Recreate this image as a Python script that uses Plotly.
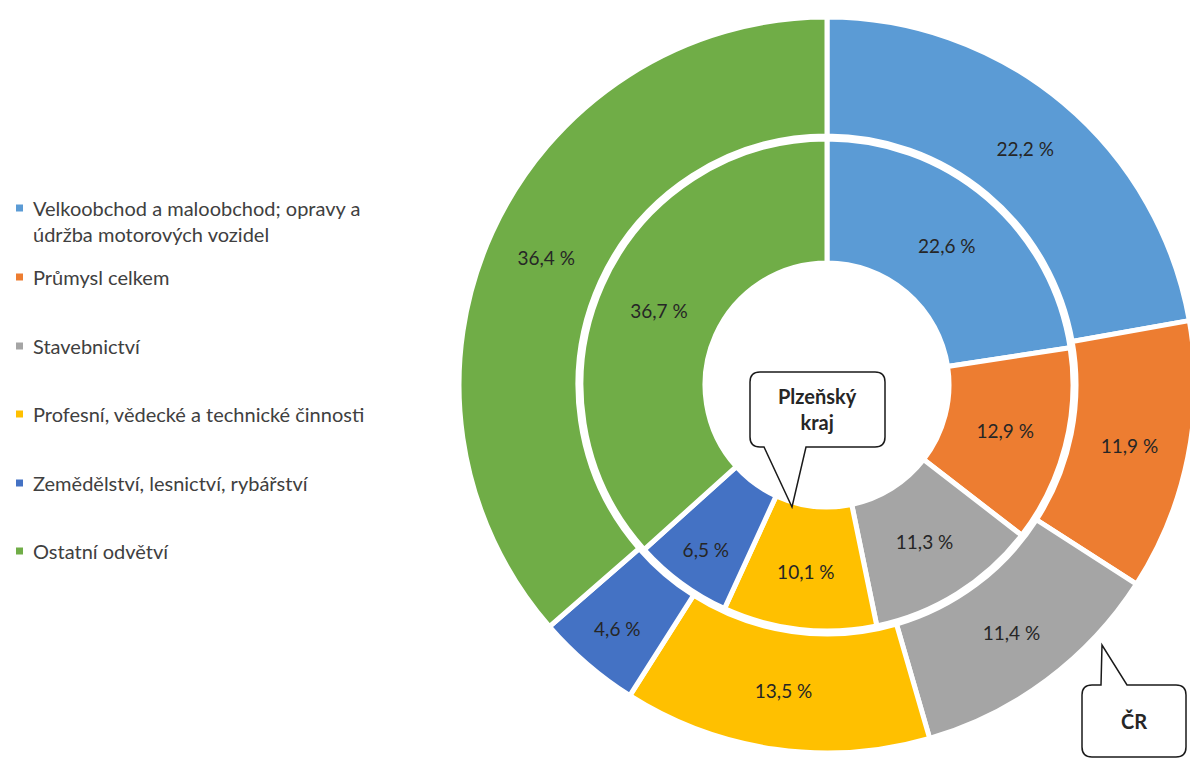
import plotly.graph_objects as go

# ---- data ----
categories = [
    "Velkoobchod a maloobchod; opravy a<br>údržba motorových vozidel",
    "Průmysl celkem",
    "Stavebnictví",
    "Profesní, vědecké a technické činnosti",
    "Zemědělství, lesnictví, rybářství",
    "Ostatní odvětví",
]
cr_values = [22.2, 11.9, 11.4, 13.5, 4.6, 36.4]        # outer ring: ČR
plzen_values = [22.6, 12.9, 11.3, 10.1, 6.5, 36.7]     # inner ring: Plzeňský kraj
colors = ["#5B9BD5", "#ED7D31", "#A5A5A5", "#FFC000", "#4472C4", "#70AD47"]

W, H = 1200, 762   # figure slightly wider than the 1190 view: outer ring is clipped at right
FONT = "Lato"
TXT = "#262626"

def fmt(v):
    return f"{v:.1f} %".replace(".", ",")

def px(x):
    return x / W

def py(y):
    return 1 - y / H

CX, CY = 827, 385
R_OUT, R_OUT_IN = 368, 249
R_IN, R_HOLE = 246, 122

def dom(r):
    return dict(x=[px(CX - r), min(1.0, px(CX + r))], y=[py(CY + r), py(CY - r)])

fig = go.Figure()
fig.add_trace(go.Pie(
    labels=categories, values=cr_values, text=[fmt(v) for v in cr_values],
    textinfo="text", sort=False, direction="clockwise", rotation=0,
    hole=R_OUT_IN / R_OUT, domain=dom(R_OUT),
    marker=dict(colors=colors, line=dict(color="white", width=5)),
    textposition="inside", insidetextorientation="horizontal",
    insidetextfont=dict(family=FONT, size=19, color=TXT),
    showlegend=False, name="ČR",
))
fig.add_trace(go.Pie(
    labels=categories, values=plzen_values, text=[fmt(v) for v in plzen_values],
    textinfo="text", sort=False, direction="clockwise", rotation=0,
    hole=R_HOLE / R_IN, domain=dom(R_IN),
    marker=dict(colors=colors, line=dict(color="white", width=5)),
    textposition="inside", insidetextorientation="horizontal",
    insidetextfont=dict(family=FONT, size=19, color=TXT),
    showlegend=False, name="Plzeňský kraj",
))

shapes = []
annotations = []

# ---- manual legend ----
legend_y = [208, 277, 346, 414, 483, 551]
for cat, col, y in zip(categories, colors, legend_y):
    shapes.append(dict(type="rect", xref="paper", yref="paper",
                       x0=px(16), x1=px(23), y0=py(y + 3.5), y1=py(y - 3.5),
                       fillcolor=col, line=dict(width=0)))
    annotations.append(dict(xref="paper", yref="paper", x=px(31), y=py(y - 14),
                            text=cat, showarrow=False, xanchor="left", yanchor="top",
                            align="left",
                            font=dict(family=FONT, size=20, color="#404040")))

# ---- callouts ----
def callout(x0, y0, x1, y1, r, base_a, base_b, tip, side):
    def P(x, y):
        return f"{px(x)},{py(y)}"
    if side == "bottom":
        path = (f"M {P(x0 + r, y0)} L {P(x1 - r, y0)} Q {P(x1, y0)} {P(x1, y0 + r)} "
                f"L {P(x1, y1 - r)} Q {P(x1, y1)} {P(x1 - r, y1)} "
                f"L {P(base_b, y1)} L {P(tip[0], tip[1])} L {P(base_a, y1)} "
                f"L {P(x0 + r, y1)} Q {P(x0, y1)} {P(x0, y1 - r)} "
                f"L {P(x0, y0 + r)} Q {P(x0, y0)} {P(x0 + r, y0)} Z")
    else:
        path = (f"M {P(x0 + r, y0)} L {P(base_a, y0)} L {P(tip[0], tip[1])} L {P(base_b, y0)} "
                f"L {P(x1 - r, y0)} Q {P(x1, y0)} {P(x1, y0 + r)} "
                f"L {P(x1, y1 - r)} Q {P(x1, y1)} {P(x1 - r, y1)} "
                f"L {P(x0 + r, y1)} Q {P(x0, y1)} {P(x0, y1 - r)} "
                f"L {P(x0, y0 + r)} Q {P(x0, y0)} {P(x0 + r, y0)} Z")
    return dict(type="path", xref="paper", yref="paper", path=path,
                fillcolor="white", line=dict(color="#1a1a1a", width=1.5), layer="above")

shapes.append(callout(750, 372, 885, 447, 10, 764, 806, (792, 507), "bottom"))
shapes.append(callout(1082, 685, 1186, 757, 10, 1101, 1127, (1102, 645), "top"))

annotations.append(dict(xref="paper", yref="paper", x=px(817), y=py(409),
                        xanchor="center", yanchor="middle",
                        text="<b>Plzeňský<br>kraj</b>", showarrow=False,
                        font=dict(family=FONT, size=20, color=TXT)))
annotations.append(dict(xref="paper", yref="paper", x=px(1134), y=py(721),
                        xanchor="center", yanchor="middle",
                        text="<b>ČR</b>", showarrow=False,
                        font=dict(family=FONT, size=20, color=TXT)))

fig.update_layout(
    width=W, height=H, margin=dict(l=0, r=0, t=0, b=0),
    paper_bgcolor="white", plot_bgcolor="white",
    shapes=shapes, annotations=annotations,
    font=dict(family=FONT),
)

fig.write_html(
    "out.html",
    config={"displayModeBar": False},
    post_script="document.body.style.margin='0';document.body.style.overflow='hidden';",
)
